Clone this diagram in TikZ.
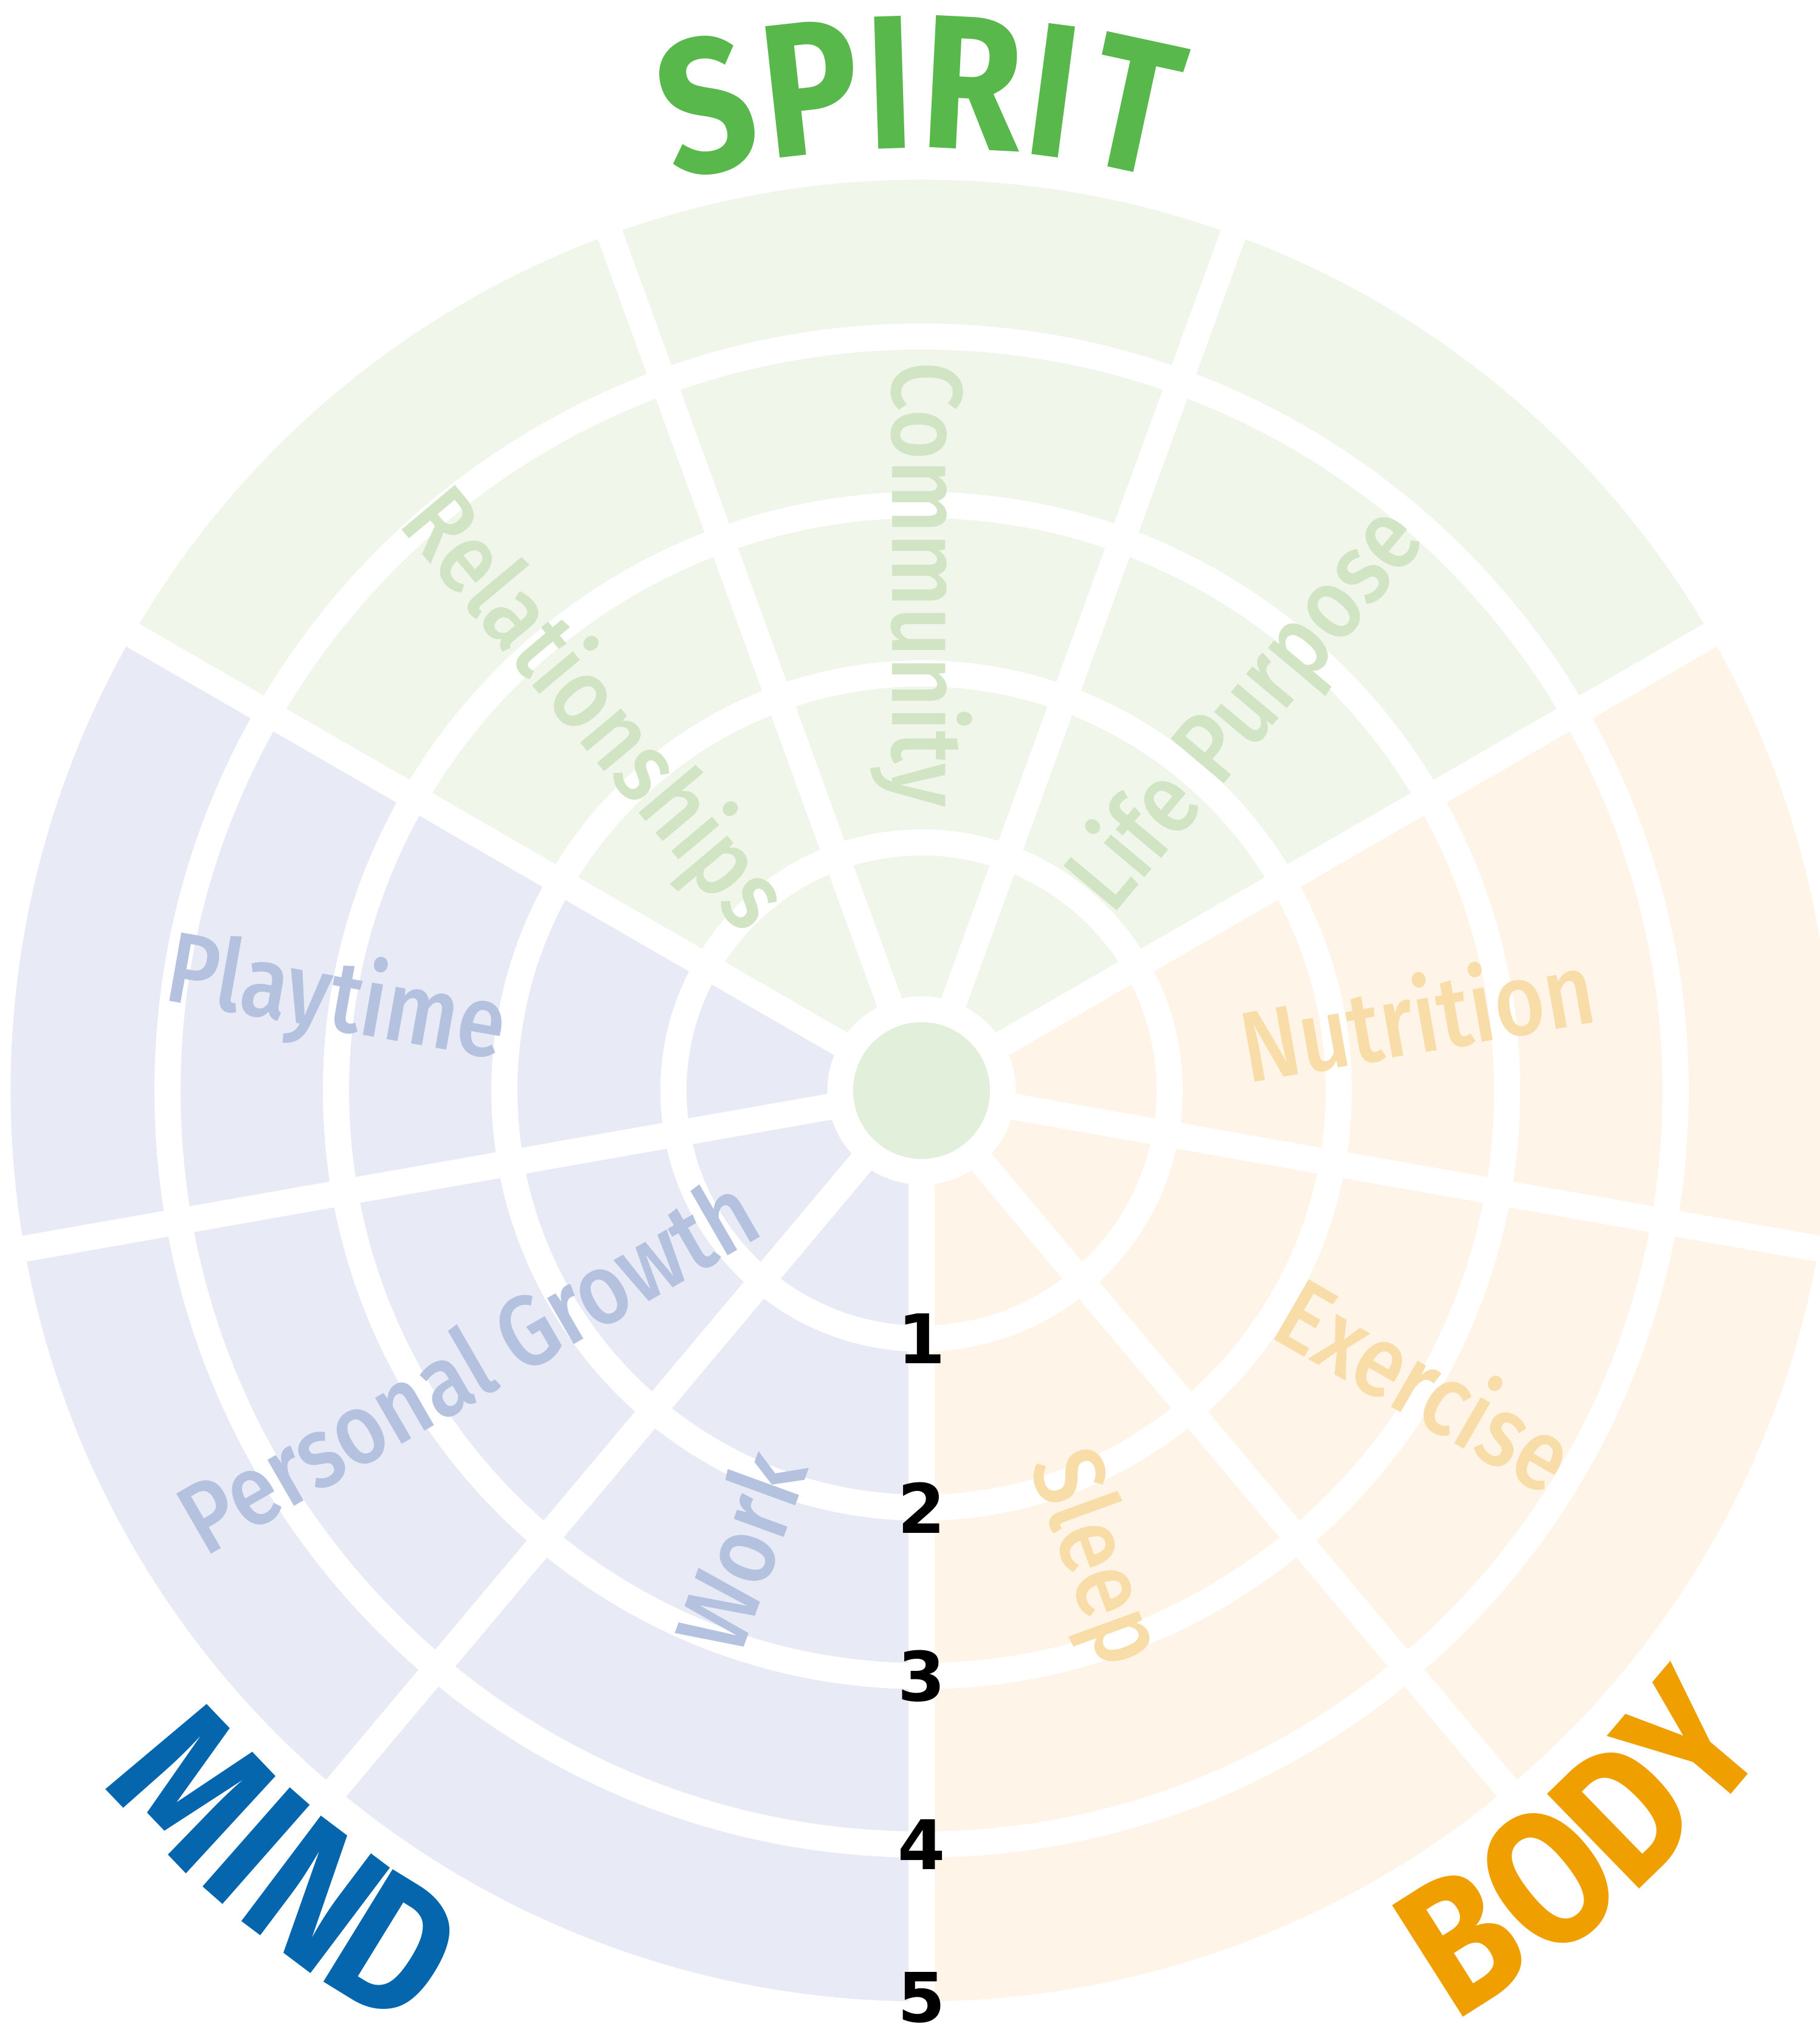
\documentclass[tikz,border=0pt]{standalone}
\usepackage{fontspec}
\setmainfont{Fira Sans}
\newfontfamily\areafont{Fira Sans}[UprightFont=* Medium,FakeStretch=0.86]
\newfontfamily\titlefont{Fira Sans}[FakeStretch=0.85]
\newfontfamily\levelfont{DejaVu Sans}

\definecolor{spiritfill}{HTML}{F0F6EA}
\definecolor{mindfill}{HTML}{E8EBF5}
\definecolor{bodyfill}{HTML}{FEF4E7}
\definecolor{corefill}{HTML}{E2EFDA}
\definecolor{spirittext}{HTML}{D1E4C3}
\definecolor{mindtext}{HTML}{B4C2E0}
\definecolor{bodytext}{HTML}{F9DDA9}
\definecolor{spirit}{HTML}{58B84B}
\definecolor{mind}{HTML}{0565AD}
\definecolor{body}{HTML}{EF9F00}

\begin{document}
\begin{tikzpicture}[
		gap/.style={white,line width=2.15mm},
		area/.style={font=\areafont\fontsize{23.5}{28}\selectfont,inner sep=0pt},
		level/.style={font=\levelfont\bfseries\fontsize{16}{19}\selectfont,text=black,inner sep=0pt},
		title/.style={font=\titlefont\bfseries\fontsize{44.6}{50}\selectfont,inner sep=0pt,anchor=base}]
		\useasboundingbox (-7.5775,-7.6925) rectangle (7.3875,8.9675);
		\clip (-7.5775,-7.6925) rectangle (7.3875,8.9675);
		
		% sectors of the wheel
		\foreach \a/\c in {-70/bodyfill,-30/bodyfill,10/bodyfill,50/spiritfill,90/spiritfill,130/spiritfill,170/mindfill,210/mindfill,250/mindfill} {
			\fill[\c] (\a-20:0.775) arc[start angle=\a-20,end angle=\a+20,radius=0.775]
				-- (\a+20:7.49) arc[start angle=\a+20,end angle=\a-20,radius=7.49] -- cycle;
		}
		\foreach \r in {2.04,3.43,4.815,6.2}
			\draw[gap] (0,0) circle[radius=\r];
		\foreach \a in {-90,-50,...,230}
			\draw[gap] (0,0) -- (\a:7.7);
		\node[circle,fill=corefill,minimum size=1.125cm,inner sep=0pt] (core) at (0,0) {};
		
		% area names
		\foreach \a/\r/\rot/\c/\t [count=\i] in {
			90/4.16/-90/spirittext/Community,
			131/4.13/-50/spirittext/Relationships,
			49.4/4.12/50/spirittext/Life Purpose,
			8.8/4.12/10/bodytext/Nutrition,
			-30/4.80/-30/bodytext/Exercise,
			-70/4.10/-70/bodytext/Sleep,
			248.4/4.07/70/mindtext/Work,
			211/4.36/30/mindtext/Personal Growth,
			171.3/4.87/-10/mindtext/Playtime}
			\node[area,text=\c,rotate=\rot] (area\i) at (\a:\r) {\t};
		
		% scale
		\foreach \r [count=\n] in {2.04,3.43,4.815,6.2,7.46}
			\node[level] (level\n) at (0,-\r) {\n};
		
		% titles round the wheel
		\foreach \ch/\a [count=\i] in {S/102.3,P/96.3,I/91.8,R/87.1,I/82.5,T/77.8}
			\node[title,text=spirit,rotate=\a-90] (spirit\i) at (\a:7.75) {\ch};
		\foreach \ch/\a [count=\i] in {M/223.7,I/228.65,N/233,D/238.4}
			\node[title,text=mind,rotate=\a+90] (mind\i) at (\a:8.82) {\ch};
		\foreach \ch/\a [count=\i] in {B/-57.6,O/-51.5,D/-45.8,Y/-40.3}
			\node[title,text=body,rotate=\a+90] (body\i) at (\a:8.82) {\ch};
	\end{tikzpicture}
\end{document}
